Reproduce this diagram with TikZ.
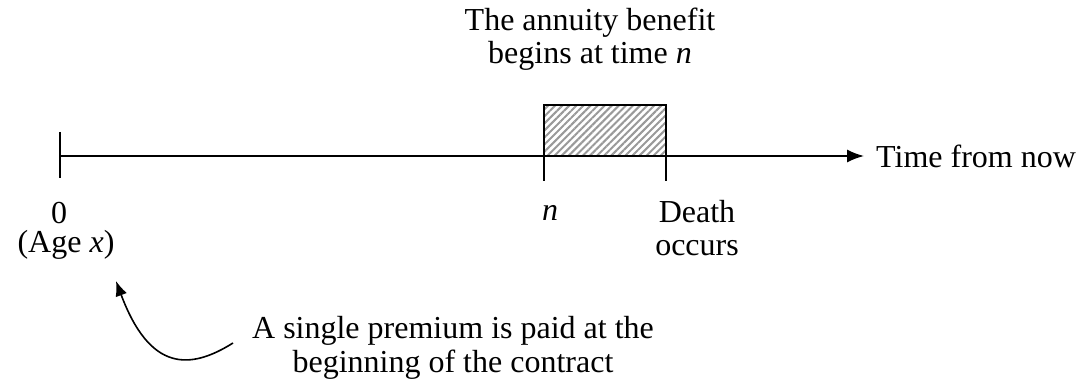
\documentclass[tikz,border=0pt]{standalone}
\usepackage{fontspec}
\setmainfont{Liberation Serif}
\usetikzlibrary{arrows.meta,patterns.meta}
\begin{document}
\begin{tikzpicture}[x=1pt,y=-1pt,
  lbl/.style={inner sep=0pt,align=center,font=\fontsize{32}{33.5}\selectfont},
  axis/.style={line width=1.6pt},
  tick/.style={line width=1.6pt}]
\useasboundingbox (0,0) rectangle (1079,385);
% hatched box
\path[pattern={Lines[angle=45,distance=5pt,line width=2pt]},pattern color=black!40]
  (544,105) rectangle (666,156);
\draw[line width=1.6pt] (544,105) rectangle (666,156);
% axis
\coordinate (a0) at (60,156);
\coordinate (a1) at (864,156);
\draw[axis,-{Latex[length=17pt,width=13pt]}] (a0) -- (a1);
\draw[tick] (60,132) -- (60,178);
\draw[tick] (544,156) -- (544,181);
\draw[tick] (666,156) -- (666,181);
% labels
\node[lbl,anchor=west] (time) at (876,156) {Time from now};
\node[lbl] (top) at (590,39) {The annuity benefit\\begins at time \textit{n}};
\node[lbl] (zero) at (59,213) {0};
\node[lbl] (age) at (66,245) {(Age \textit{x})};
\node[lbl] (n) at (550,213) {\textit{n}};
\node[lbl] (death) at (697,228) {Death\\occurs};
\node[lbl] (note) at (453,348) {A single premium is paid at the\\beginning of the contract};
% curved arrow
\coordinate (c0) at (233,343);
\coordinate (c1) at (116,281);
\draw[line width=1.6pt,-{Latex[length=15pt,width=12pt]}] (c0) .. controls (190,370) and (150,372) .. (c1);
\end{tikzpicture}
\end{document}
